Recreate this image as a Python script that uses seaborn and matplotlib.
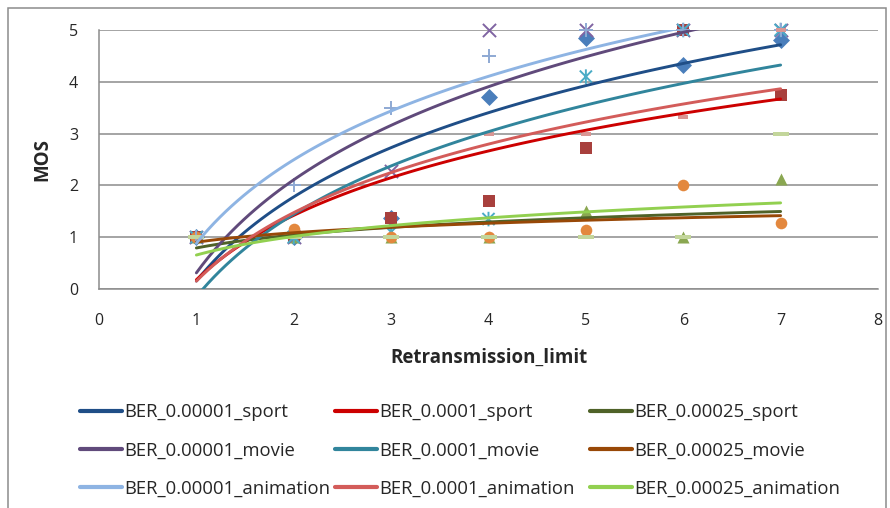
import numpy as np
import pandas as pd
import matplotlib
matplotlib.use("Agg")
import matplotlib.pyplot as plt
from matplotlib.path import Path
from matplotlib.lines import Line2D
from matplotlib.patches import Rectangle
import seaborn as sns

# DADOS
retrans_limit = [1, 2, 3, 4, 5, 6, 7]

labels = ["BER_0.00001_sport", "BER_0.0001_sport", "BER_0.00025_sport",
          "BER_0.00001_movie", "BER_0.0001_movie", "BER_0.00025_movie",
          "BER_0.00001_animation", "BER_0.0001_animation", "BER_0.00025_animation"]

mos_sport_1 = [1.0, 1.0, 1.37, 3.71, 4.85, 4.33, 4.8]
mos_sport_2 = [1.0, 1.0, 1.37, 1.69, 2.73, 5.0, 3.75]
mos_sport_3 = [1.0, 1.0, 1.0, 1.0, 1.5, 1.0, 2.13]
mos_movie_1 = [1.0, 1.0, 2.28, 5.0, 5.0, 5.0, 5.0]
mos_movie_2 = [1.0, 1.0, 1.1, 1.35, 4.1, 5.0, 5.0]
mos_movie_3 = [1.0, 1.16, 1.0, 1.0, 1.14, 2.0, 1.27]
mos_anim_1 = [1.0, 2.0, 3.5, 4.5, 5.0, 5.0, 5.0]
mos_anim_2 = [1.0, 1.0, 1.0, 3.0, 3.0, 3.33, 5.0]
mos_anim_3 = [1.0, 1.0, 1.0, 1.0, 1.0, 1.0, 3.0]

series = [mos_sport_1, mos_sport_2, mos_sport_3,
          mos_movie_1, mos_movie_2, mos_movie_3,
          mos_anim_1, mos_anim_2, mos_anim_3]

# ESTILOS (marcadores estilo Excel)
star = Path([(-0.5, -0.5), (0.5, 0.5), (-0.5, 0.5), (0.5, -0.5), (0, -0.6), (0, 0.6)],
            [Path.MOVETO, Path.LINETO, Path.MOVETO, Path.LINETO, Path.MOVETO, Path.LINETO])
short_dash = Path([(-1, -0.35), (1, -0.35), (1, 0.35), (-1, 0.35), (-1, -0.35)],
                  [Path.MOVETO, Path.LINETO, Path.LINETO, Path.LINETO, Path.CLOSEPOLY])
long_dash = Path([(-1, -0.27), (1, -0.27), (1, 0.27), (-1, 0.27), (-1, -0.27)],
                 [Path.MOVETO, Path.LINETO, Path.LINETO, Path.LINETO, Path.CLOSEPOLY])

markers = ["D", "s", "^", "x", star, "o", "+", short_dash, long_dash]
sizes = [75, 80, 75, 90, 110, 70, 100, 55, 130]
line_art = [False, False, False, True, True, False, True, False, False]
marker_colors = ["#4A7EBB", "#A8403D", "#8AA751", "#8064A2", "#4BACC6",
                 "#E3883E", "#8EA9D3", "#D99694", "#C3D69B"]
line_colors = ["#1F4E87", "#CC0000", "#4F6228", "#604A7B", "#31859C",
               "#984807", "#8EB4E3", "#D35C5A", "#92D050"]

sns.set_style("white")
plt.rcParams["font.family"] = ["Open Sans", "DejaVu Sans"]

fig = plt.figure(figsize=(8.9, 5.08), dpi=100)
ax = fig.add_axes([99 / 890, 1 - 289 / 508, (878 - 99) / 890, (289 - 30) / 508])

for i, y in enumerate(series):
    sk = {"s": sizes[i], "alpha": 1, "clip_on": False, "zorder": 3}
    if line_art[i]:
        sk["linewidths"] = 1.4
        sk["facecolors"] = "none" if markers[i] is star else marker_colors[i]
        sk["edgecolors"] = marker_colors[i]
    else:
        sk["linewidths"] = 0
    sns.regplot(x=np.array(retrans_limit, dtype=float), y=np.array(y), ax=ax,
                logx=True, ci=None, truncate=True, marker=markers[i],
                scatter_kws=dict(sk, color=marker_colors[i]),
                line_kws={"color": line_colors[i], "linewidth": 2.1, "zorder": 4})

ax.set_xlim(0, 8)
ax.set_ylim(0, 5)
ax.set_xticks(range(0, 9))
ax.set_yticks(range(0, 6))
ax.grid(axis="y", color="#8C8C8C", linewidth=1.1)
ax.set_axisbelow(True)
for s in ["top", "right"]:
    ax.spines[s].set_visible(False)
for s in ["left", "bottom"]:
    ax.spines[s].set_color("#8C8C8C")
    ax.spines[s].set_linewidth(1.1)
ax.tick_params(axis="y", length=0, pad=15, labelsize=11.5)
ax.tick_params(axis="x", length=0, pad=17, labelsize=11.5)
ax.set_xlabel("Retransmission_limit", fontsize=13.5, fontweight="bold", labelpad=14)
ax.set_ylabel("MOS", fontsize=13.5, fontweight="bold", labelpad=12)

# LEGENDA (3 colunas, só as linhas de tendência)
col_x = [80, 335, 590]
for c in range(3):
    idx = [c, c + 3, c + 6]
    handles = [Line2D([], [], color=line_colors[k], linewidth=3) for k in idx]
    leg = fig.legend(handles, [labels[k] for k in idx], loc="upper left",
                     bbox_to_anchor=(col_x[c] / 890, 1 - 403 / 508),
                     frameon=False, fontsize=13.3, handlelength=2.3,
                     handletextpad=0.1, labelspacing=1.1, borderpad=0,
                     borderaxespad=0)

# BORDA DA ÁREA DO GRÁFICO
fig.patches.append(Rectangle((8 / 890, -0.1), (886 - 8) / 890, 1.1 - 8 / 508,
                             transform=fig.transFigure, fill=False,
                             edgecolor="#8C8C8C", linewidth=1.1))

fig.savefig("out.png", dpi=100)
